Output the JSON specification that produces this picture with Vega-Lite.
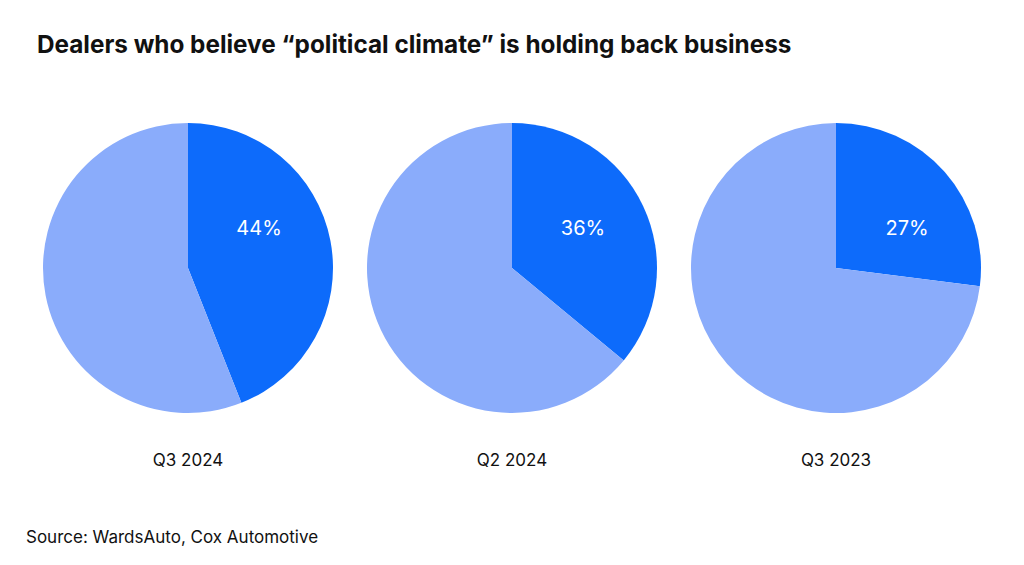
{
  "$schema": "https://vega.github.io/schema/vega-lite/v6.json",
  "background": "white",
  "padding": {"left": 26, "top": 34, "right": 0, "bottom": 0},
  "title": {
    "text": "Dealers who believe “political climate” is holding back business",
    "anchor": "start",
    "dx": 11,
    "fontSize": 24.3,
    "font": "Inter",
    "fontWeight": "bold",
    "color": "#111111",
    "offset": 64.5
  },
  "data": {
    "values": [
      {"period": "Q3 2024", "segment": "yes", "share": 0.44},
      {"period": "Q3 2024", "segment": "no", "share": 0.56},
      {"period": "Q2 2024", "segment": "yes", "share": 0.36},
      {"period": "Q2 2024", "segment": "no", "share": 0.64},
      {"period": "Q3 2023", "segment": "yes", "share": 0.27},
      {"period": "Q3 2023", "segment": "no", "share": 0.73}
    ]
  },
  "facet": {
    "column": {
      "field": "period",
      "sort": ["Q3 2024", "Q2 2024", "Q3 2023"],
      "title": "Source: WardsAuto, Cox Automotive",
      "header": {
        "labelOrient": "bottom",
        "titleOrient": "bottom",
        "labelFont": "Inter",
        "labelFontSize": 17,
        "labelColor": "#111111",
        "labelPadding": 40,
        "titleFont": "Inter",
        "titleFontSize": 17,
        "titleFontWeight": "normal",
        "titleColor": "#111111",
        "titleAnchor": "start",
        "titlePadding": 51
      }
    }
  },
  "spacing": 0,
  "spec": {
    "width": 324,
    "height": 290,
    "layer": [
      {
        "mark": {"type": "arc", "stroke": null},
        "encoding": {
          "theta": {"field": "share", "type": "quantitative", "stack": true},
          "order": {"field": "segment", "sort": "descending"},
          "color": {
            "field": "segment",
            "type": "nominal",
            "scale": {"domain": ["yes", "no"], "range": ["#0D6BFB", "#8AACFB"]},
            "legend": null
          }
        }
      },
      {
        "transform": [{"filter": "datum.segment === 'yes'"}],
        "mark": {
          "type": "text",
          "theta": 1.07,
          "radius": 81,
          "font": "Inter",
          "fontSize": 20,
          "color": "white"
        },
        "encoding": {
          "text": {"field": "share", "type": "quantitative", "format": ".0%"}
        }
      }
    ]
  },
  "config": {
    "view": {"stroke": null}
  }
}
